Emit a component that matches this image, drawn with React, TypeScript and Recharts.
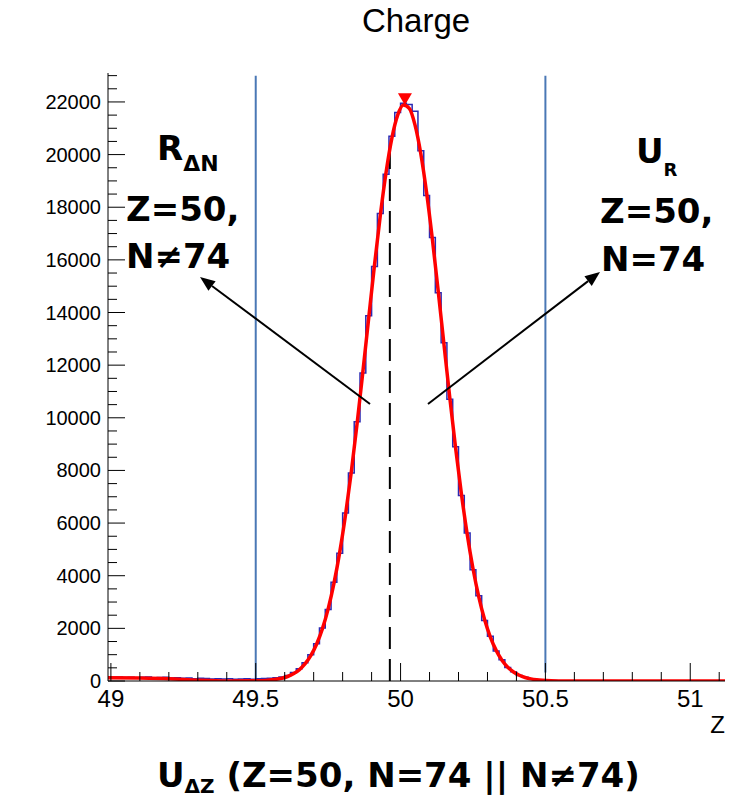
import React from "react";
import {
  ComposedChart,
  Line,
  XAxis,
  YAxis,
  ReferenceLine,
  ReferenceDot,
} from "recharts";

const W = 747;
const H = 798;

// histogram binning (low edges from 49.00, 0.02 wide)
const BIN_START = 49.0;
const BIN_WIDTH = 0.02;

// 49.00 - 49.52
const countsLow = [
  140, 150, 135, 145, 125, 140, 150, 120, 130, 140, 110, 120, 100, 115, 85,
  100, 95, 75, 90, 80, 90, 70, 75, 85, 70, 90, 95,
];
// 49.54 - 50.48
const countsPeak = [
  100, 120, 150, 210, 320, 470, 690, 1000, 1420, 2010, 2720, 3750, 4850, 6380,
  7900, 9850, 11700, 13880, 15750, 17760, 19250, 20700, 21600, 21950, 21900,
  21650, 20150, 18450, 16850, 14750, 12850, 10700, 8900, 7050, 5620, 4230,
  3240, 2300, 1700, 1140, 810, 510, 350, 210, 140, 80, 50, 30,
];
// 50.50 - 51.10
const countsHigh = [
  20, 15, 10, 10, 5, 5, 0, 5, 0, 0, 0, 0, 0, 0, 0, 0, 0, 0, 0, 0, 0, 0, 0, 0,
  0, 0, 0, 0, 0, 0, 5,
];

// gaussian fit curve (x, value)
const fitX = [
  48.99, 49.1, 49.2, 49.3, 49.4, 49.5, 49.55, 49.57, 49.59, 49.61, 49.63,
  49.65, 49.67, 49.69, 49.71, 49.73, 49.75, 49.77, 49.79, 49.81, 49.83, 49.85,
  49.87, 49.89, 49.91, 49.93, 49.95, 49.97, 49.99, 50.01, 50.03, 50.05, 50.07,
  50.09, 50.11, 50.13, 50.15, 50.17, 50.19, 50.21, 50.23, 50.25, 50.27, 50.29,
  50.31, 50.33, 50.35, 50.37, 50.39, 50.41, 50.43, 50.45, 50.47, 50.49, 50.52,
  50.56, 51.12,
];
const fitY = [
  120, 110, 85, 30, 0, 5, 40, 63, 105, 171, 273, 425, 648, 962, 1397, 1980,
  2742, 3708, 4897, 6318, 7954, 9787, 11758, 13793, 15805, 17684, 19327, 20628,
  21499, 21884, 21755, 21120, 20025, 18543, 16769, 14809, 12772, 10757, 8850,
  7111, 5578, 4275, 3197, 2337, 1669, 1163, 791, 526, 342, 217, 134, 81, 48,
  28, 10, 0, 0,
];

const peakMarker = { x: 50.015, y: 22100 };
const windowLow = 49.5;
const windowHigh = 50.5;
const cutX = 49.963;
const cutTop = 20200;

const X_DOMAIN: [number, number] = [48.99, 51.12];
const Y_DOMAIN: [number, number] = [0, 23100];
const xMajor = [49, 49.5, 50, 50.5, 51];
const yMajor = [0, 2000, 4000, 6000, 8000, 10000, 12000, 14000, 16000, 18000, 20000, 22000];

const xTicks = Array.from({ length: 22 }, (_, i) => +(49 + i * 0.1).toFixed(1));
const yTicks = Array.from({ length: 47 }, (_, i) => i * 500);

const counts = [...countsLow, ...countsPeak, ...countsHigh];
const histData = counts.map((c, i) => ({
  x: +(BIN_START + i * BIN_WIDTH).toFixed(2),
  y: c,
}));
histData.push({
  x: +(BIN_START + counts.length * BIN_WIDTH).toFixed(2),
  y: counts[counts.length - 1],
});
const fitData = fitX.map((x, i) => ({ x, y: fitY[i] }));

const isMajor = (v: number, list: number[]) =>
  list.some((m) => Math.abs(m - v) < 1e-6);

const AXIS_FONT = "'Liberation Sans', Arial, Helvetica, sans-serif";
const BOLD_FONT = "'DejaVu Sans', sans-serif";

const XTick = (props: any) => {
  const { x, y, payload } = props;
  const major = isMajor(payload.value, xMajor);
  return (
    <g>
      <line x1={x} y1={y} x2={x} y2={y - (major ? 18 : 9)} stroke="#000" strokeWidth={1} />
      {major && (
        <text x={x} y={y + 26} textAnchor="middle" fontSize={24} fontFamily={AXIS_FONT} fill="#000">
          {payload.value}
        </text>
      )}
    </g>
  );
};

const YTick = (props: any) => {
  const { x, y, payload } = props;
  const major = isMajor(payload.value, yMajor);
  return (
    <g>
      <line x1={x} y1={y} x2={x + (major ? 17 : 9)} y2={y} stroke="#000" strokeWidth={1} />
      {major && (
        <text x={x - 7} y={y + 7} textAnchor="end" fontSize={20} fontFamily={AXIS_FONT} fill="#000">
          {payload.value}
        </text>
      )}
    </g>
  );
};

const DownTriangle = (props: any) => {
  const { cx, cy } = props;
  return (
    <polygon
      points={`${cx - 7},${cy - 6} ${cx + 7},${cy - 6} ${cx},${cy + 6}`}
      fill="#ff0000"
    />
  );
};

function Arrow({ x1, y1, x2, y2 }: { x1: number; y1: number; x2: number; y2: number }) {
  const dx = x2 - x1;
  const dy = y2 - y1;
  const len = Math.hypot(dx, dy);
  const ux = dx / len;
  const uy = dy / len;
  const bx = x2 - ux * 15;
  const by = y2 - uy * 15;
  const px = -uy * 6;
  const py = ux * 6;
  return (
    <g>
      <line x1={x1} y1={y1} x2={bx} y2={by} stroke="#000" strokeWidth={2} />
      <polygon points={`${x2},${y2} ${bx + px},${by + py} ${bx - px},${by - py}`} fill="#000" />
    </g>
  );
}

function Annotations() {
  return (
    <svg
      width={W}
      height={H}
      style={{ position: "absolute", left: 0, top: 0, pointerEvents: "none" }}
    >
      <text x={416} y={32} textAnchor="middle" fontSize={33} fontFamily={AXIS_FONT} fill="#000">
        Charge
      </text>
      <text x={725} y={733} textAnchor="end" fontSize={24} fontFamily={AXIS_FONT} fill="#000">
        Z
      </text>

      <g fontFamily={BOLD_FONT} fontWeight="bold" fill="#000">
        <text x={157} y={160} fontSize={34}>
          R<tspan fontSize={22} dy={11}>ΔN</tspan>
        </text>
        <text x={126} y={221} fontSize={34}>Z=50,</text>
        <text x={126} y={268} fontSize={34}>N≠74</text>

        <text x={636} y={163} fontSize={34}>
          U<tspan fontSize={18} dy={13}>R</tspan>
        </text>
        <text x={600} y={223} fontSize={34}>Z=50,</text>
        <text x={601} y={271} fontSize={34}>N=74</text>

        <text x={157} y={787} fontSize={34}>
          U<tspan fontSize={20} dy={6}>ΔZ</tspan>
          <tspan dy={-6}> (Z=50, N=74 || N≠74)</tspan>
        </text>
      </g>

      <Arrow x1={370} y1={404} x2={200} y2={277} />
      <Arrow x1={428} y1={404} x2={600} y2={272} />
    </svg>
  );
}

export default function App() {
  return (
    <div style={{ position: "absolute", left: 0, top: 0, width: W, height: H, background: "#fff" }}>
      <ComposedChart
        width={W}
        height={H}
        margin={{ top: 73, right: 22, left: 8, bottom: 77 }}
      >
        <XAxis
          type="number"
          dataKey="x"
          domain={X_DOMAIN}
          ticks={xTicks}
          interval={0}
          allowDataOverflow
          tickSize={0}
          tickMargin={0}
          tickLine={false}
          axisLine={{ stroke: "#000", strokeWidth: 1 }}
          tick={<XTick />}
          height={40}
        />
        <XAxis
          xAxisId="top"
          orientation="top"
          type="number"
          domain={X_DOMAIN}
          tick={false}
          tickLine={false}
          axisLine={{ stroke: "#000", strokeWidth: 1 }}
          height={0}
        />
        <YAxis
          type="number"
          dataKey="y"
          domain={Y_DOMAIN}
          ticks={yTicks}
          interval={0}
          allowDataOverflow
          tickSize={0}
          tickMargin={0}
          tickLine={false}
          axisLine={{ stroke: "#000", strokeWidth: 1 }}
          tick={<YTick />}
          width={100}
        />
        <YAxis
          yAxisId="right"
          orientation="right"
          type="number"
          domain={Y_DOMAIN}
          tick={false}
          tickLine={false}
          axisLine={{ stroke: "#555", strokeWidth: 1 }}
          width={0}
        />

        <ReferenceLine
          segment={[{ x: windowLow, y: 0 }, { x: windowLow, y: 23000 }]}
          stroke="#4a78b5"
          strokeWidth={2}
        />
        <ReferenceLine
          segment={[{ x: windowHigh, y: 320 }, { x: windowHigh, y: 23000 }]}
          stroke="#4a78b5"
          strokeWidth={2}
        />

        <Line
          data={histData}
          dataKey="y"
          type="stepAfter"
          stroke="#2a2ab4"
          strokeWidth={1.5}
          dot={false}
          isAnimationActive={false}
        />
        <ReferenceLine
          segment={[{ x: cutX, y: 0 }, { x: cutX, y: cutTop }]}
          stroke="#000"
          strokeWidth={2}
          strokeDasharray="22 10"
        />
        <Line
          data={fitData}
          dataKey="y"
          type="monotone"
          stroke="#ff0000"
          strokeWidth={3.5}
          dot={false}
          isAnimationActive={false}
        />
        <ReferenceDot x={peakMarker.x} y={peakMarker.y} shape={<DownTriangle />} />
      </ComposedChart>
      <Annotations />
    </div>
  );
}
